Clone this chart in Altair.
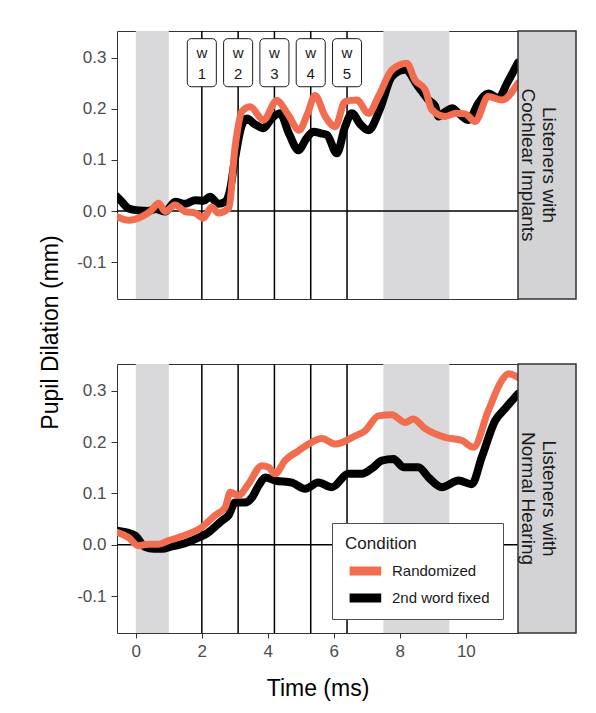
import pandas as pd
import altair as alt

FONT = "Liberation Sans"
ORANGE = "#f26d50"
BAND_GREY = "#d9d9db"
STRIP_GREY = "#d3d3d5"
DARK = "#333333"

X_DOMAIN = [-0.57, 11.58]
Y_DOMAIN = [-0.172, 0.352]

conditions = ["Randomized", "2nd word fixed"]
panel_labels = ["Listeners with\nCochlear Implants", "Listeners with\nNormal Hearing"]

# word onsets and their labels
word_onset = [2.0, 3.1, 4.2, 5.3, 6.4]
word_label = ["1", "2", "3", "4", "5"]

# grey analysis windows
window_start = [0.0, 7.5]
window_end = [1.0, 9.5]

zero_line = [0.0]

# --- listeners with cochlear implants ---
ci_rand_t = [-0.57, -0.22, 0.18, 0.45, 0.69, 0.89, 1.19, 1.49, 1.8, 2.05, 2.3, 2.5,
             2.81, 3.01, 3.21, 3.46, 3.87, 4.27, 4.6, 4.95, 5.2, 5.43, 5.74, 6.04,
             6.34, 6.7, 7.05, 7.35, 7.76, 8.21, 8.46, 8.77, 8.97, 9.37, 9.7, 9.98,
             10.28, 10.68, 11.09, 11.58]
ci_rand_y = [-0.011, -0.018, -0.011, 0.0, 0.015, -0.001, 0.012, -0.001, -0.004, -0.014, 0.008, -0.004,
             0.005, 0.126, 0.194, 0.204, 0.178, 0.216, 0.19, 0.158, 0.19, 0.226, 0.185, 0.165,
             0.214, 0.217, 0.191, 0.224, 0.276, 0.289, 0.256, 0.237, 0.198, 0.185, 0.191, 0.19,
             0.175, 0.224, 0.217, 0.25]

ci_fixed_t = [-0.57, -0.45, -0.22, 0.1, 0.37, 0.6, 0.89, 1.19, 1.49, 1.8, 2.05, 2.25,
              2.5, 2.7, 2.85, 3.0, 3.2, 3.36, 3.6, 3.87, 4.1, 4.37, 4.65, 4.93,
              5.15, 5.38, 5.6, 5.79, 6.09, 6.34, 6.55, 6.8, 7.05, 7.4, 7.76, 8.16,
              8.56, 8.87, 9.07, 9.17, 9.4, 9.58, 9.8, 10.08, 10.38, 10.68, 10.99, 11.25,
              11.58]
ci_fixed_y = [0.028, 0.02, 0.005, 0.001, 0.0, 0.004, -0.001, 0.018, 0.014, 0.021, 0.02, 0.028,
              0.014, 0.018, 0.04, 0.10, 0.165, 0.181, 0.17, 0.162, 0.18, 0.191, 0.15, 0.119,
              0.14, 0.155, 0.152, 0.149, 0.113, 0.165, 0.191, 0.17, 0.158, 0.2, 0.263, 0.276,
              0.243, 0.217, 0.205, 0.185, 0.195, 0.201, 0.19, 0.178, 0.211, 0.23, 0.221, 0.25,
              0.29]

# --- listeners with normal hearing ---
nh_rand_t = [-0.57, -0.22, 0.08, 0.37, 0.69, 0.99, 1.29, 1.59, 2.0, 2.4, 2.71, 2.86,
             3.11, 3.41, 3.82, 4.02, 4.22, 4.52, 4.93, 5.23, 5.64, 6.04, 6.65, 6.95,
             7.35, 7.76, 8.16, 8.41, 8.77, 9.37, 9.88, 10.23, 10.68, 11.09, 11.29, 11.58]
nh_rand_y = [0.024, 0.014, -0.002, 0.001, 0.001, 0.008, 0.014, 0.021, 0.034, 0.057, 0.073, 0.102,
             0.096, 0.118, 0.154, 0.151, 0.138, 0.164, 0.183, 0.196, 0.207, 0.196, 0.212, 0.222,
             0.251, 0.253, 0.238, 0.245, 0.226, 0.209, 0.203, 0.19, 0.261, 0.32, 0.333, 0.326]

nh_fixed_t = [-0.57, -0.02, 0.27, 0.55, 0.79, 1.1, 1.39, 1.8, 2.2, 2.61, 2.81, 3.01,
              3.31, 3.52, 3.72, 3.92, 4.22, 4.73, 5.13, 5.53, 5.94, 6.44, 6.85, 7.2,
              7.45, 7.81, 8.11, 8.56, 8.87, 9.27, 9.78, 10.18, 10.48, 10.89, 11.19, 11.58]
nh_fixed_y = [0.027, 0.018, -0.004, -0.008, -0.008, -0.003, 0.001, 0.011, 0.024, 0.047, 0.057, 0.082,
              0.082, 0.092, 0.115, 0.131, 0.125, 0.121, 0.109, 0.121, 0.112, 0.138, 0.138, 0.151,
              0.164, 0.167, 0.151, 0.151, 0.131, 0.112, 0.125, 0.118, 0.17, 0.242, 0.265, 0.294]


def series(cond, t, y):
    return pd.DataFrame({"condition": cond, "time": t, "dilation": y})


x_scale = alt.Scale(domain=X_DOMAIN, nice=False, zero=False)
y_scale = alt.Scale(domain=Y_DOMAIN, nice=False, zero=False)

color_enc = alt.Color(
    "condition:N",
    scale=alt.Scale(domain=conditions, range=[ORANGE, "black"]),
    legend=alt.Legend(
        title="Condition",
        orient="none",
        legendX=215,
        legendY=492,
        fillColor="white",
        strokeColor="#4d4d4d",
        padding=13,
        # wide flat stroke so the key looks like a thick line segment
        symbolType="M-1,0H3",
        symbolSize=250,
        symbolStrokeWidth=9,
        clipHeight=16,
        labelFontSize=15,
        labelColor="#1a1a1a",
        titleFontSize=17,
        titleFontWeight="normal",
        titleColor="#1a1a1a",
        titlePadding=10,
        rowPadding=11,
        labelOffset=22,
    ),
)

Y_LABELS = "datum.value < 0 ? '-' + format(-datum.value, '.1f') : format(datum.value, '.1f')"


def panel_chart(rand_df, fixed_df, height, top_panel):
    if top_panel:
        ax_y = alt.Axis(
            values=[-0.1, 0.0, 0.1, 0.2, 0.3],
            labelExpr=Y_LABELS,
            tickSize=6,
            labelPadding=5,
            title="Pupil Dilation (mm)",
            titleAngle=270,
            titleAlign="center",
            titleBaseline="alphabetic",
            titleX=-60,
            titleY=301,
        )
        ax_x = None
    else:
        ax_y = alt.Axis(
            values=[-0.1, 0.0, 0.1, 0.2, 0.3],
            labelExpr=Y_LABELS,
            tickSize=6,
            labelPadding=5,
            title=None,
        )
        ax_x = alt.Axis(
            values=[0, 2, 4, 6, 8, 10],
            format="d",
            tickSize=5,
            labelPadding=5,
            title="Time (ms)",
            titleBaseline="alphabetic",
            titleY=62,
        )

    windows = pd.DataFrame({"start": window_start, "end": window_end})
    words = pd.DataFrame({"onset": word_onset, "label": word_label})

    bands = alt.Chart(windows).mark_rect(color=BAND_GREY).encode(
        x=alt.X("start:Q", scale=x_scale, axis=ax_x),
        x2="end:Q",
    )

    onsets = alt.Chart(words).mark_rule(color="black", strokeWidth=1.5).encode(
        x=alt.X("onset:Q", scale=x_scale, axis=ax_x)
    )

    zero = alt.Chart(pd.DataFrame({"zero": zero_line})).mark_rule(
        color="black", strokeWidth=1.5
    ).encode(y=alt.Y("zero:Q", scale=y_scale, axis=ax_y))

    def line(df, width):
        return alt.Chart(df).mark_line(
            strokeWidth=width, interpolate="monotone", clip=True,
            strokeCap="round", strokeJoin="round"
        ).encode(
            x=alt.X("time:Q", scale=x_scale, axis=ax_x),
            y=alt.Y("dilation:Q", scale=y_scale, axis=ax_y),
            color=color_enc,
        )

    layers = [bands, onsets, zero, line(fixed_df, 8), line(rand_df, 7)]

    if top_panel:
        base = alt.Chart(words).transform_calculate(
            left="datum.onset - 0.44", right="datum.onset + 0.44",
            top="0.337", bottom="0.243", wy="0.309", ny="0.267",
        )
        boxes = base.mark_rect(
            fill="white", stroke="#1a1a1a", strokeWidth=1, cornerRadius=4
        ).encode(
            x=alt.X("left:Q", scale=x_scale, axis=ax_x), x2="right:Q",
            y=alt.Y("top:Q", scale=y_scale, axis=ax_y), y2="bottom:Q",
        )
        w_text = base.mark_text(font=FONT, fontSize=15, color="#1a1a1a").encode(
            x=alt.X("onset:Q", scale=x_scale, axis=ax_x),
            y=alt.Y("wy:Q", scale=y_scale, axis=ax_y),
            text=alt.value("w"),
        )
        n_text = base.mark_text(font=FONT, fontSize=15, color="#1a1a1a").encode(
            x=alt.X("onset:Q", scale=x_scale, axis=ax_x),
            y=alt.Y("ny:Q", scale=y_scale, axis=ax_y),
            text="label:N",
        )
        layers += [boxes, w_text, n_text]

    return alt.layer(*layers).properties(width=401, height=height)


def strip_chart(label, height):
    return alt.Chart(pd.DataFrame({"label": [label]})).mark_text(
        angle=90, font=FONT, fontSize=19, color="#1a1a1a", dy=-2,
        lineBreak="\n", lineHeight=21, align="center", baseline="middle",
    ).encode(text="label:N").properties(
        width=58, height=height,
        view=alt.ViewBackground(fill=STRIP_GREY, stroke=DARK, strokeWidth=1.5),
    )


ci = panel_chart(series(conditions[0], ci_rand_t, ci_rand_y),
                 series(conditions[1], ci_fixed_t, ci_fixed_y), 268, True)
nh = panel_chart(series(conditions[0], nh_rand_t, nh_rand_y),
                 series(conditions[1], nh_fixed_t, nh_fixed_y), 269, False)

chart = (
    alt.concat(
        ci, strip_chart(panel_labels[0], 268),
        nh, strip_chart(panel_labels[1], 269),
        columns=2, spacing={"row": 65, "column": 0}, bounds="flush",
    )
    .resolve_scale(color="shared")
    .resolve_legend(color="shared")
    .properties(padding={"left": 30, "top": 21, "right": 5, "bottom": 5})
    .configure(font=FONT)
    .configure_view(stroke=DARK, strokeWidth=1)
    .configure_axis(
        domain=False,
        grid=False,
        tickColor=DARK,
        labelColor="#4d4d4d",
        labelFontSize=17,
        labelFont=FONT,
        titleFont=FONT,
        titleFontSize=23,
        titleFontWeight="normal",
        titleColor="black",
    )
)

chart.save("out.html", embed_options={"renderer": "svg", "actions": False})
